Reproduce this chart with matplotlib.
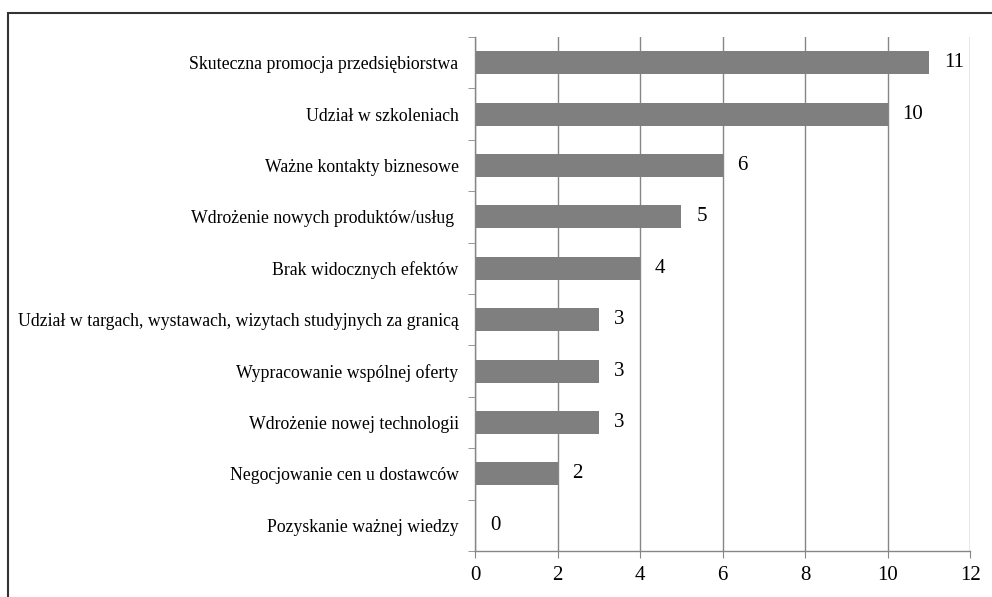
import matplotlib.pyplot as plt
from matplotlib.patches import Rectangle

categories = [
    "Skuteczna promocja przedsiębiorstwa",
    "Udział w szkoleniach",
    "Ważne kontakty biznesowe",
    "Wdrożenie nowych produktów/usług ",
    "Brak widocznych efektów",
    "Udział w targach, wystawach, wizytach studyjnych za granicą",
    "Wypracowanie wspólnej oferty",
    "Wdrożenie nowej technologii",
    "Negocjowanie cen u dostawców",
    "Pozyskanie ważnej wiedzy",
]
values = [11, 10, 6, 5, 4, 3, 3, 3, 2, 0]
xticks = [0, 2, 4, 6, 8, 10, 12]

plt.rcParams['font.family'] = ['Liberation Serif', 'DejaVu Serif']

fig = plt.figure(figsize=(9.92, 5.97), dpi=100)
ax = fig.add_axes([0.479, 0.077, 0.499, 0.861])

n = len(categories)
ypos = list(range(n))[::-1]  # first category on top
ax.barh(ypos, values, height=0.45, color="#7f7f7f", zorder=3)

for y, v in zip(ypos, values):
    ax.text(v + 0.36, y, str(v), va="center", ha="left", fontsize=15, color="black")

ax.set_xlim(0, 12)
ax.set_ylim(-0.5, n - 0.5)
ax.set_xticks(xticks)
ax.set_xticklabels([str(t) for t in xticks], fontsize=15)
ax.set_yticks(ypos)
ax.set_yticklabels(categories, fontsize=12.8)
ax.set_yticks([i - 0.5 for i in range(n + 1)], minor=True)

ax.tick_params(axis="y", which="major", length=0, pad=12)
ax.tick_params(axis="y", which="minor", length=5, color="#868686", direction="out")
ax.tick_params(axis="x", length=5, color="#868686", direction="out", pad=6)

ax.grid(axis="x", color="#868686", linewidth=1, zorder=0)
for s in ["top", "right"]:
    ax.spines[s].set_visible(False)
for s in ["left", "bottom"]:
    ax.spines[s].set_color("#868686")
    ax.spines[s].set_linewidth(1)
    ax.spines[s].set_zorder(4)

# outer frame of the original figure (cut at right and bottom)
frame = Rectangle((0.008, -0.05), 1.2, 0.978 + 0.05, transform=fig.transFigure,
                  fill=False, edgecolor="#333333", linewidth=1.5)
fig.patches.append(frame)

fig.savefig("out.png", dpi=100)
